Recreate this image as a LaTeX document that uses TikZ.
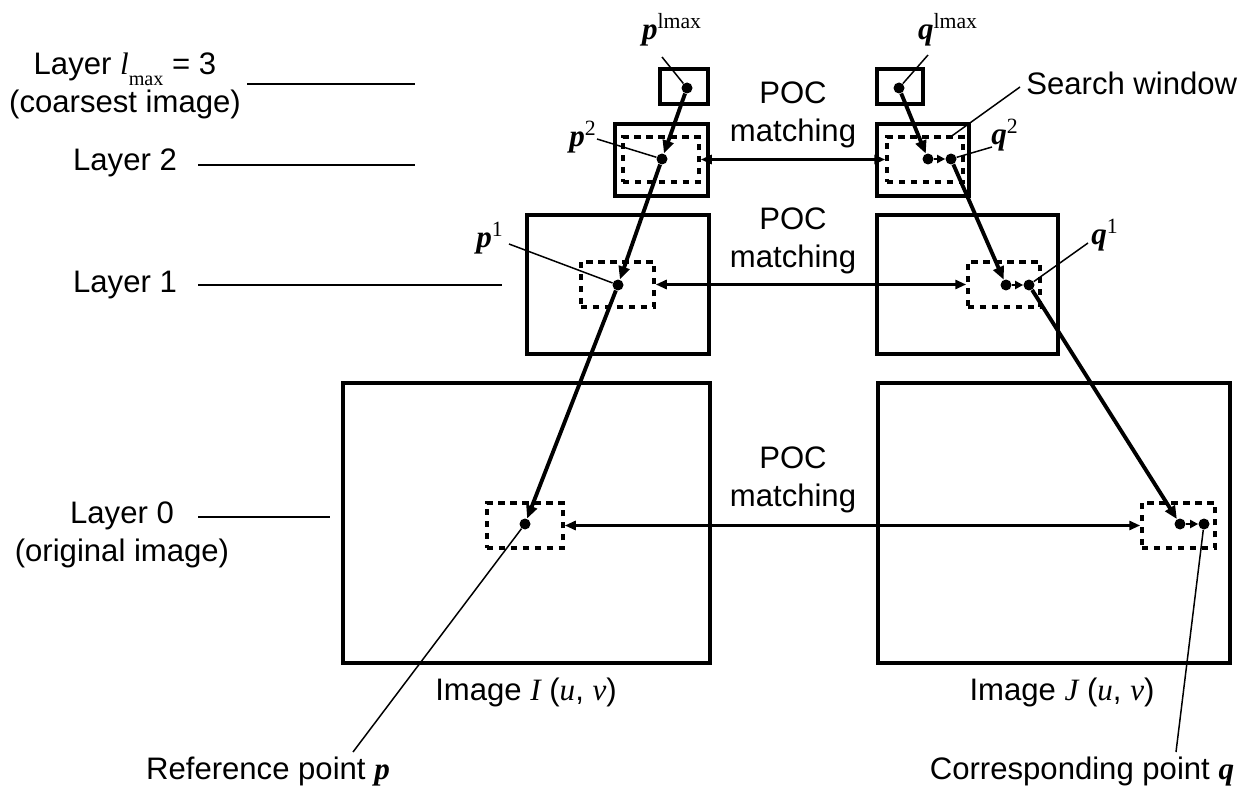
\documentclass[tikz,border=0pt]{standalone}
\usepackage{fontspec}
\setmainfont{Liberation Sans}
\newfontfamily\tms{Liberation Serif}
\usetikzlibrary{arrows.meta,positioning,fit}
\newcommand{\vp}{{\tms\bfseries\itshape p}}
\newcommand{\vq}{{\tms\bfseries\itshape q}}
\newcommand{\upidx}[1]{\textsuperscript{\tms #1}}

\begin{document}
\begin{tikzpicture}[x=0.02cm,y=-0.02cm,
    imgbox/.style={draw,line width=2.3pt,inner sep=0pt},
    window/.style={draw,line width=2pt,dash pattern=on 3.6pt off 3.2pt,inner sep=0pt},
    dot/.style={circle,fill,inner sep=0pt,minimum size=0.22cm},
    track/.style={line width=2.2pt,-{Triangle[length=2.6mm,width=2.2mm]}},
    nudge/.style={line width=1.6pt,-{Triangle[length=1.6mm,width=1.6mm]}},
    match/.style={line width=1.8pt,{Triangle[length=2.2mm,width=1.8mm]}-{Triangle[length=2.2mm,width=1.8mm]}},
    lead/.style={line width=0.85pt},
    txt/.style={font=\fontsize{17.7}{22}\selectfont,align=center,inner sep=0pt}
  ]
  \useasboundingbox (0,0) rectangle (1242,794);

  % image pyramid, left (I) and right (J)
  \node[imgbox,fit={(660,69)(708,104)}] (bLmaxI) {};
  \node[imgbox,fit={(877,69)(923,104)}] (bLmaxJ) {};
  \node[imgbox,fit={(615,124)(708,196)}] (b2I) {};
  \node[imgbox,fit={(877,124)(969,196)}] (b2J) {};
  \node[imgbox,fit={(527,215)(709,354)}] (b1I) {};
  \node[imgbox,fit={(877,215)(1058,354)}] (b1J) {};
  \node[imgbox,fit={(343,383)(710,663)}] (b0I) {};
  \node[imgbox,fit={(878,383)(1230,663)}] (b0J) {};

  % search windows
  \node[window,fit={(623,137)(699,182)}] (w2I) {};
  \node[window,fit={(887,137)(963,182)}] (w2J) {};
  \node[window,fit={(581,262)(654,307)}] (w1I) {};
  \node[window,fit={(968,262)(1040,307)}] (w1J) {};
  \node[window,fit={(487,503)(563,548)}] (w0I) {};
  \node[window,fit={(1142,503)(1215,548)}] (w0J) {};

  % points
  \node[dot] (pLmax) at (687,88) {};
  \node[dot] (p2) at (662,159) {};
  \node[dot] (p1) at (618,285) {};
  \node[dot] (p0) at (525,524) {};
  \node[dot] (qLmax) at (899,88) {};
  \node[dot] (q2a) at (928,159) {};
  \node[dot] (q2) at (951,159) {};
  \node[dot] (q1a) at (1006,285) {};
  \node[dot] (q1) at (1029,285) {};
  \node[dot] (q0a) at (1180,524) {};
  \node[dot] (q0) at (1204,524) {};

  \draw[track] (pLmax) -- (p2);
  \draw[track] (p2) -- (p1);
  \draw[track] (p1) -- (p0);
  \draw[track] (qLmax) -- (q2a);
  \draw[nudge] (q2a) -- (q2);
  \draw[track] (q2) -- (q1a);
  \draw[nudge] (q1a) -- (q1);
  \draw[track] (q1) -- (q0a);
  \draw[nudge] (q0a) -- (q0);

  % POC matching
  \draw[match] (w2I.east) -- (w2J.west);
  \draw[match] (w1I.east) -- (w1J.west);
  \draw[match] (w0I.east) -- (w0J.west);
  \node[txt] (poc2) at (793,115) {POC\\matching};
  \node[txt] (poc1) at (793,241) {POC\\matching};
  \node[txt] (poc0) at (793,480) {POC\\matching};

  % layer names
  \node[txt] (lyLmax) at (125,86) {Layer {\tms\itshape l}\raisebox{-0.7ex}{\tms\fontsize{11.5}{12}\selectfont max} = 3\\(coarsest image)};
  \node[txt] (ly2) at (125,163) {Layer 2};
  \node[txt] (ly1) at (125,285) {Layer 1};
  \node[txt] (ly0) at (122,535) {Layer 0\\(original image)};
  \coordinate (sLmax) at (247,84);
  \coordinate (eLmax) at (415,84);
  \coordinate (s2) at (198,165);
  \coordinate (e2) at (415,165);
  \coordinate (s1) at (198,285);
  \coordinate (e1) at (502,285);
  \coordinate (s0) at (198,517);
  \coordinate (e0) at (330,517);
  \foreach \s/\e in {sLmax/eLmax,s2/e2,s1/e1,s0/e0}\draw[lead] (\s) -- (\e);

  % point labels
  \node[txt] (lpLmax) at (672,30) {\vp\upidx{lmax}};
  \node[txt] (lqLmax) at (948,30) {\vq\upidx{lmax}};
  \node[txt] (lp2) at (583,137) {\vp\upidx{2}};
  \node[txt] (lp1) at (490,238) {\vp\upidx{1}};
  \node[txt] (lq2) at (1005,135) {\vq\upidx{2}};
  \node[txt] (lq1) at (1105,235) {\vq\upidx{1}};
  \coordinate (cpLmax) at (662,57);
  \coordinate (cqLmax) at (928,55);
  \coordinate (cp2) at (597,139);
  \coordinate (cp1) at (509,244);
  \coordinate (cq2) at (992,147);
  \coordinate (cq1) at (1088,243);
  \draw[lead] (cpLmax) -- (pLmax);
  \draw[lead] (cqLmax) -- (qLmax);
  \draw[lead] (cp2) -- (p2);
  \draw[lead] (cp1) -- (p1);
  \draw[lead] (cq2) -- (q2);
  \draw[lead] (cq1) -- (q1);

  \node[txt,anchor=west] (lsw) at (1026,83) {Search window};
  \coordinate (ssw) at (1020,87);
  \coordinate (csw) at (949,138);
  \draw[lead] (ssw) -- (csw);

  % image names and end points
  \node[txt] (nI) at (526,692) {Image {\tms\itshape I} ({\tms\itshape u}, {\tms\itshape v})};
  \node[txt] (nJ) at (1062,692) {Image {\tms\itshape J} ({\tms\itshape u}, {\tms\itshape v})};
  \node[txt] (lref) at (268,772) {Reference point \vp};
  \node[txt] (lcor) at (1082,772) {Corresponding point \vq};
  \coordinate (cref) at (353,752);
  \coordinate (ccor) at (1176,752);
  \draw[lead] (p0) -- (cref);
  \draw[lead] (q0) -- (ccor);
\end{tikzpicture}
\end{document}
